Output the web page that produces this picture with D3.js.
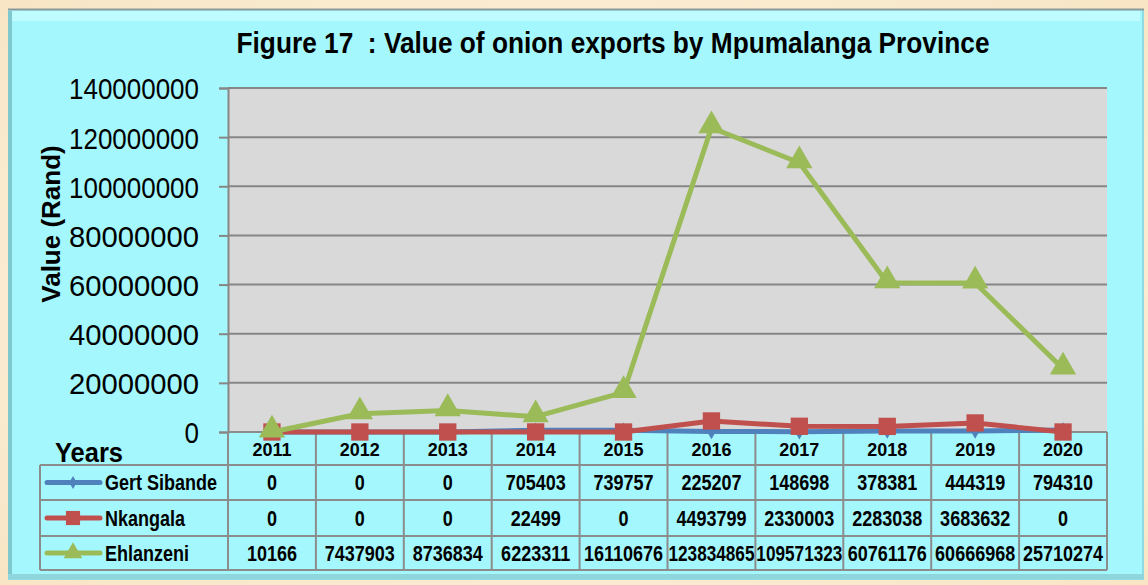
<!DOCTYPE html>
<html><head><meta charset="utf-8">
<script src="https://cdn.jsdelivr.net/npm/d3@7"></script>
<style>body{margin:0;background:#FBEFD8;}svg{display:block;}</style>
</head><body>
<svg id="c" width="1148" height="585"></svg>
<script>
const years = ["2011","2012","2013","2014","2015","2016","2017","2018","2019","2020"];
const gertSibande = [0,0,0,705403,739757,225207,148698,378381,444319,794310];
const nkangala = [0,0,0,22499,0,4493799,2330003,2283038,3683632,0];
const ehlanzeni = [10166,7437903,8736834,6223311,16110676,123834865,109571323,60761176,60666968,25710274];
const seriesNames = ["Gert Sibande","Nkangala","Ehlanzeni"];
const yTicks = [0,20000000,40000000,60000000,80000000,100000000,120000000,140000000];

const svg = d3.select("#c");
const F = "'Liberation Sans', Arial, sans-serif";

// outer background
const defs = svg.append("defs");
const bg = defs.append("radialGradient").attr("id","bg").attr("cx","50%").attr("cy","50%").attr("r","75%");
bg.append("stop").attr("offset","0%").attr("stop-color","#FFF8EC");
bg.append("stop").attr("offset","100%").attr("stop-color","#F7E4C2");
svg.append("rect").attr("width",1148).attr("height",585).attr("fill","url(#bg)");

// panel
svg.append("rect").attr("x",8).attr("y",9).attr("width",1136).attr("height",571).attr("fill","#8fdde2");
svg.append("rect").attr("x",8).attr("y",10).attr("width",1134).attr("height",568).attr("fill","#A4F8FD");
svg.append("line").attr("x1",8).attr("x2",1144).attr("y1",9.5).attr("y2",9.5).attr("stroke","#8a9a9c").attr("stroke-width",2);
svg.append("rect").attr("x",10).attr("y",11).attr("width",1130).attr("height",10).attr("fill","#C6FCFF").attr("opacity",0.8);
svg.append("rect").attr("x",8).attr("y",11).attr("width",4).attr("height",566).attr("fill","#7fc9ce");
svg.append("rect").attr("x",8).attr("y",574).attr("width",1136).attr("height",5).attr("fill","#8ed6dc");

// helper: text stretched vertically
function stext(parent, tx, ty, str, opts) {
  const t = parent.append("text")
    .attr("transform", `translate(${tx},${ty}) scale(${opts.sx||1},${opts.sy||1})`)
    .attr("x",0).attr("y",0)
    .attr("text-anchor", opts.anchor||"start")
    .attr("font-family",F).attr("font-weight",opts.weight||"bold")
    .attr("font-size",opts.size).attr("fill","#000")
    .style("white-space","pre")
    .text(str);
  if (opts.len) t.attr("textLength",opts.len).attr("lengthAdjust","spacingAndGlyphs");
  return t;
}

// title
stext(svg, 613, 53, "Figure 17  : Value of onion exports by Mpumalanga Province",
  {size:27, sy:1.1, anchor:"middle", len:753});

const x0 = 228, x1 = 1107, yTop = 88, yBot = 432;
const x = d3.scaleBand().domain(years).range([x0,x1]);
const y = d3.scaleLinear().domain([0,140000000]).range([yBot,yTop]);

// plot area
svg.append("rect").attr("x",x0).attr("y",yTop).attr("width",x1-x0).attr("height",yBot-yTop).attr("fill","#D9D9D9");
svg.append("g").selectAll("line").data(yTicks.slice(1)).join("line")
  .attr("x1",x0).attr("x2",x1).attr("y1",d=>y(d)).attr("y2",d=>y(d))
  .attr("stroke","#868686").attr("stroke-width",2);

// y axis
const yAxis = d3.axisLeft(y).tickValues(yTicks).tickSize(9).tickPadding(20).tickFormat(d3.format("d"));
const ga = svg.append("g").attr("transform",`translate(${x0},0)`).call(yAxis);
ga.select(".domain").attr("stroke","#868686").attr("stroke-width",2);
ga.selectAll(".tick line").attr("stroke","#868686").attr("stroke-width",2);
ga.selectAll(".tick text").attr("font-family",F).attr("font-size",26).attr("fill","#000")
  .attr("dy","0.36em").attr("transform","scale(1,1.17)")
  .attr("y",0)
  .attr("textLength",d=>d===0?null:130).attr("lengthAdjust","spacingAndGlyphs");

svg.append("text").attr("transform","translate(60,224) rotate(-90)").attr("text-anchor","middle")
  .attr("font-family",F).attr("font-weight","bold").attr("font-size",26).attr("fill","#000")
  .text("Value (Rand)");

// table
const rowY = [432,465,500,536,570];
const tbl = svg.append("g");
const gridC = "#8c8c8c";
tbl.append("line").attr("x1",x0).attr("x2",x1).attr("y1",yBot).attr("y2",yBot).attr("stroke",gridC).attr("stroke-width",2);
rowY.slice(1).forEach(r=>tbl.append("line").attr("x1",40).attr("x2",x1).attr("y1",r).attr("y2",r).attr("stroke",gridC).attr("stroke-width",2));
const cols = years.map(v=>x(v)).concat([x1]);
cols.forEach(cx=>tbl.append("line").attr("x1",cx).attr("x2",cx).attr("y1",yBot).attr("y2",570).attr("stroke",gridC).attr("stroke-width",2));
tbl.append("line").attr("x1",40).attr("x2",40).attr("y1",465).attr("y2",570).attr("stroke",gridC).attr("stroke-width",2);

years.forEach(v=>stext(tbl, x(v)+x.bandwidth()/2, 456, v, {size:18, sy:1.05, anchor:"middle"}));

stext(svg, 55, 462, "Years", {size:28, sx:0.91});

const colors = ["#4F81BD","#C0504D","#9BBB59"];
const allSeries = [gertSibande,nkangala,ehlanzeni];
const sym = [d3.symbolDiamond, d3.symbolSquare, d3.symbolTriangle];
const symSize = [70, 300, 300];

allSeries.forEach((vals,i)=>{
  const cy = (rowY[i+1]+rowY[i+2])/2;
  vals.forEach((d,j)=>{
    stext(tbl, x(years[j])+x.bandwidth()/2, cy+7.5, String(d),
      {size:18, sy:1.2, anchor:"middle", len: String(d).length>=9?86:null});
  });
  tbl.append("line").attr("x1",47).attr("x2",100).attr("y1",cy).attr("y2",cy)
    .attr("stroke",colors[i]).attr("stroke-width",5).attr("stroke-linecap","round");
  tbl.append("path").attr("d",d3.symbol(sym[i], i===1?200:(i===0?50:150))())
    .attr("transform",`translate(73,${cy})`).attr("fill",colors[i]);
  stext(tbl, 105, cy+7.5, seriesNames[i], {size:18, sy:1.2});
});

// lines
const line = d3.line().x((d,j)=>x(years[j])+x.bandwidth()/2).y(d=>y(d));
allSeries.forEach((vals,i)=>{
  const g = svg.append("g");
  g.append("path").attr("d",line(vals)).attr("fill","none").attr("stroke",colors[i]).attr("stroke-width",5).attr("stroke-linejoin","round");
  g.selectAll("path.m").data(vals).join("path").attr("class","m")
    .attr("d",d3.symbol(sym[i],symSize[i])())
    .attr("transform",(d,j)=>`translate(${x(years[j])+x.bandwidth()/2},${y(d) - (i===2?2:0)})`)
    .attr("fill",colors[i]);
});
</script>
</body></html>
